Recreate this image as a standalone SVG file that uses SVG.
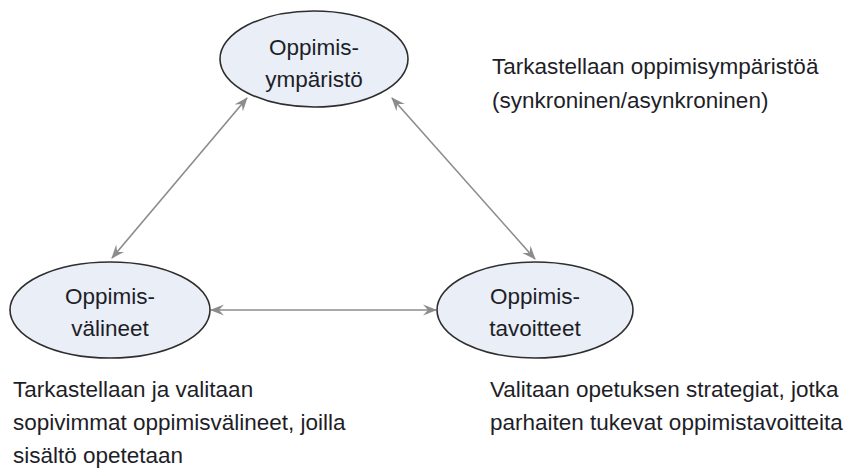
<svg xmlns="http://www.w3.org/2000/svg" width="848" height="475" viewBox="0 0 848 475">
  <style>
    .node ellipse { fill: #e9eef7; stroke: #2e2e2e; stroke-width: 1.6; }
    text { font-family: "Liberation Sans", Arial, sans-serif; font-size: 22.5px; fill: #1e1e28; }
    .label { text-anchor: middle; }
    .link { stroke: #8c8c8c; stroke-width: 1.6; fill: none; marker-start: url(#head); marker-end: url(#head); }
  </style>
  <defs>
    <marker id="head" viewBox="0 0 14 12" refX="13" refY="6" markerWidth="14" markerHeight="12" markerUnits="userSpaceOnUse" orient="auto-start-reverse">
      <path d="M0,0.5 L14,6 L0,11.5 L5,6 Z" fill="#8c8c8c"/>
    </marker>
  </defs>

  <!-- connectors -->
  <g id="connectors">
    <line class="link" x1="247" y1="98" x2="112" y2="258"/>
    <line class="link" x1="392" y1="98" x2="535" y2="259"/>
    <line class="link" x1="211" y1="310" x2="436" y2="310"/>
  </g>

  <!-- nodes -->
  <g id="node-ymparisto" class="node">
    <ellipse cx="314" cy="59" rx="94" ry="48"/>
    <text class="label" x="314" y="55">Oppimis-</text>
    <text class="label" x="314" y="87">ympäristö</text>
  </g>
  <g id="node-valineet" class="node">
    <ellipse cx="110" cy="310" rx="100" ry="48"/>
    <text class="label" x="110" y="304">Oppimis-</text>
    <text class="label" x="110" y="336">välineet</text>
  </g>
  <g id="node-tavoitteet" class="node">
    <ellipse cx="535" cy="310" rx="98" ry="48"/>
    <text class="label" x="535" y="304">Oppimis-</text>
    <text class="label" x="535" y="336">tavoitteet</text>
  </g>

  <!-- descriptions -->
  <g id="note-ymparisto">
    <text x="492" y="74">Tarkastellaan oppimisympäristöä</text>
    <text x="492" y="108">(synkroninen/asynkroninen)</text>
  </g>
  <g id="note-valineet">
    <text x="13" y="397">Tarkastellaan ja valitaan</text>
    <text x="13" y="430">sopivimmat oppimisvälineet, joilla</text>
    <text x="13" y="463">sisältö opetetaan</text>
  </g>
  <g id="note-tavoitteet">
    <text x="490" y="397">Valitaan opetuksen strategiat, jotka</text>
    <text x="490" y="430">parhaiten tukevat oppimistavoitteita</text>
  </g>
</svg>
